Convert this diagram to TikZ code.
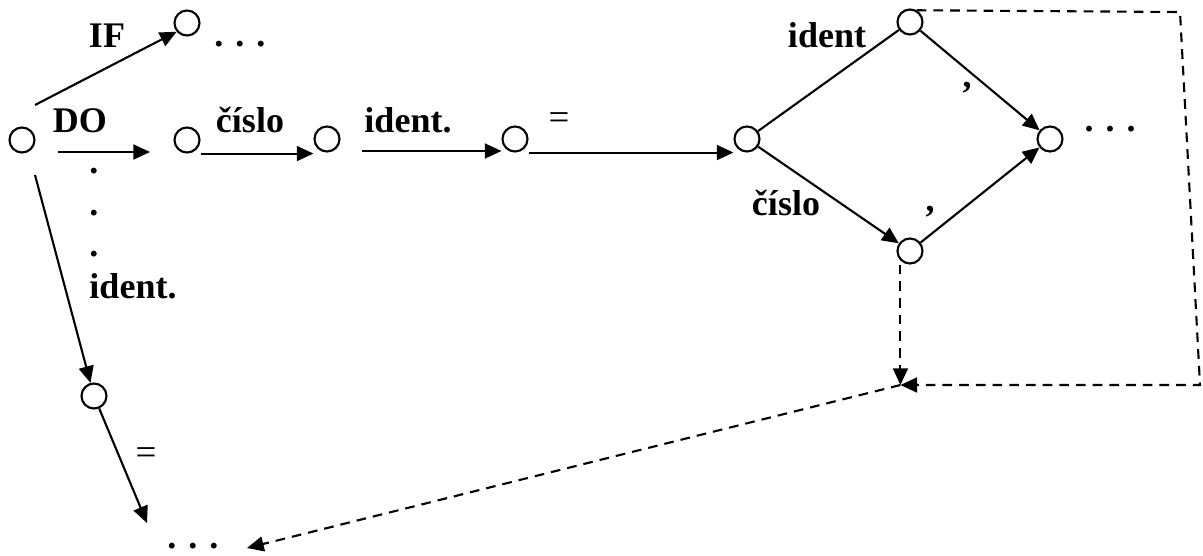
\documentclass[tikz,border=0pt]{standalone}
\usepackage{fontspec}
\setmainfont{Liberation Serif}
\usetikzlibrary{arrows.meta}

\tikzset{
  st/.style={draw, circle, minimum size=0.5cm, inner sep=0pt, line width=1.2pt},
  lbl/.style={font=\fontsize{20.5}{24}\selectfont\bfseries, inner sep=0pt},
  sym/.style={font=\fontsize{21}{24}\selectfont, inner sep=0pt},
  arr/.style={-{Triangle[length=9.5pt,width=8.5pt]}, line width=1.2pt},
  dsh/.style={dash pattern=on 5.5pt off 4pt, line width=1.2pt},
}

\begin{document}
\begin{tikzpicture}[x=0.02cm,y=-0.02cm]
\useasboundingbox (0,0) rectangle (1203,555);

% states
\node[st] (n0) at (22,140) {};
\node[st] (nif) at (187,23) {};
\node[st] (ndo) at (187,140) {};
\node[st] (n3) at (327,139) {};
\node[st] (n4) at (515,139) {};
\node[st] (n5) at (747,139) {};
\node[st] (ntop) at (910,22) {};
\node[st] (nright) at (1050,139) {};
\node[st] (nbot) at (910,251) {};
\node[st] (n6) at (94,396) {};

% free ends
\coordinate (aif) at (35,105);
\coordinate (ado0) at (58,152);
\coordinate (ado1) at (150,152);
\coordinate (a3) at (362,151);
\coordinate (aid) at (35,175);
\coordinate (aeq) at (147,523);
\coordinate (k1) at (1180,12);
\coordinate (k2) at (1200,385);
\coordinate (kmeet) at (nbot.south west |- k2);
\coordinate (kend) at (247,548);

\draw[arr] (aif) -- (nif.-140);
\draw[arr] (ado0) -- (ado1);
\draw[arr] (ndo.east |- ndo.south) -- (n3.west |- ndo.south);
\draw[arr] (a3) -- (n4.west |- a3);
\draw[arr] (n4.east |- n4.south) -- (n5.west |- n4.south);
\draw[line width=1.2pt] (n5) -- (ntop);
\draw[arr] (ntop) -- (nright);
\draw[arr] (n5) -- (nbot);
\draw[arr] (nbot) -- (nright);
\draw[arr] (aid) -- (n6);
\draw[arr] (n6) -- (aeq);

\draw[dsh,arr] (ntop.60) -- (k1) -- (k2) -- (kmeet);
\draw[dsh,arr] (nbot.south west |- nbot.south) -- (kmeet);
\draw[dsh,arr] (kmeet) -- (kend);

% labels
\node[lbl, anchor=base] (lif) at (107,47) {IF};
\node[lbl, anchor=base] (ldo) at (80,132) {DO};
\node[lbl, anchor=base] (lnum1) at (250,132) {číslo};
\node[lbl, anchor=base] (lid1) at (408,132) {ident.};
\node[sym] (leq1) at (559,121) {=};
\node[lbl, anchor=base] (lid2) at (827,47) {ident};
\node[lbl, anchor=base] (lnum2) at (786,215) {číslo};
\node[lbl] (lc1) at (967,88) {,};
\node[lbl] (lc2) at (930,212) {,};
\node[lbl, anchor=base] (lid3) at (133,298) {ident.};
\node[sym] (leq2) at (146,456) {=};

\node[lbl, anchor=base] (ldots1) at (240,46) {. . .};
\node[lbl, anchor=base] (ldots2) at (1110,131) {. . .};
\node[lbl, anchor=base] (ldots3) at (193,548) {. . .};
\foreach \y [count=\i] in {173,215,256}
  \node[lbl, anchor=base] (vd\i) at (94,\y) {.};

\end{tikzpicture}
\end{document}
